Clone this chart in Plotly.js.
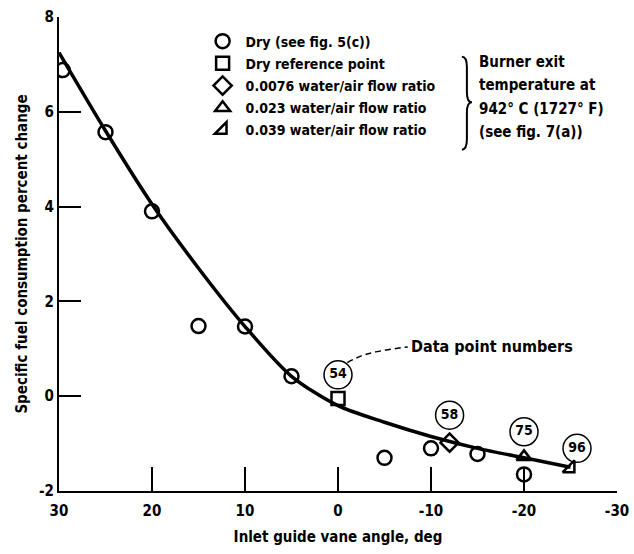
<!DOCTYPE html>
<html><head><meta charset="utf-8">
<script src="https://cdn.plot.ly/plotly-3.0.1.min.js"></script>
<style>body{margin:0;background:#fff}</style>
</head><body><div id="chart" style="width:634px;height:554px"></div>
<script>
// Dry data points (see fig. 5(c))
const dryX = [29.6, 25, 20, 15, 10, 5, -5, -10, -15, -20];
const dryY = [6.88, 5.57, 3.9, 1.48, 1.47, 0.42, -1.3, -1.1, -1.22, -1.65];
// Dry reference point
const refX = [0];
const refY = [-0.05];
// Water injection points
const w0076X = [-12];
const w0076Y = [-0.98];
const w023X = [-20];
const w023Y = [-1.28];
const w039X = [-25];
const w039Y = [-1.52];
// Faired curve
const fitX = [30, 25, 20, 15, 10, 5, 0, -5, -10, -15, -20, -25];
const fitY = [7.25, 5.6, 4.05, 2.7, 1.47, 0.42, -0.2, -0.55, -0.85, -1.1, -1.3, -1.5];
// Data point number labels
const labelText = ['54', '58', '75', '96'];
const labelX = [0, -12, -20, -25.7];
const labelY = [0.45, -0.4, -0.75, -1.1];
// Leader line to "Data point numbers"
const leaderX = [-1, -2.5, -4.2, -7.5];
const leaderY = [0.71, 0.85, 0.94, 1.04];
// Ticks
const xTickVals = [30, 20, 10, 0, -10, -20, -30];
const xTickText = ['30', '20', '10', '0', '-10', '-20', '-30'];
const yTickVals = [-2, 0, 2, 4, 6, 8];
const yTickText = ['-2', '0', '2', '4', '6', '8'];
// Legend names
const seriesNames = ['Dry (see fig. 5(c))', 'Dry reference point', '0.0076 water/air flow ratio', '0.023 water/air flow ratio', '0.039 water/air flow ratio'];
const burnerLines = ['Burner exit', 'temperature at', '942\u00B0 C (1727\u00B0 F)', '(see fig. 7(a))'];

const FONT = 'DejaVu Sans Condensed, Liberation Sans Narrow, sans-serif';
const mk = (sym) => ({symbol: sym, size: 13, color: '#000', line: {color: '#000', width: 2.5}});

const traces = [
  {x: fitX, y: fitY, mode: 'lines', line: {color: '#000', width: 3.5, shape: 'spline', smoothing: 0.8}, showlegend: false, hoverinfo: 'skip'},
  {x: leaderX, y: leaderY, mode: 'lines', line: {color: '#000', width: 1.5, dash: '6px,4px', shape: 'spline'}, showlegend: false, hoverinfo: 'skip'},
  {x: dryX, y: dryY, mode: 'markers', name: seriesNames[0], legendgroup: 'a', marker: Object.assign(mk('circle-open'), {size: 14})},
  {x: refX, y: refY, mode: 'markers', name: seriesNames[1], legendgroup: 'b', marker: mk('square-open')},
  {x: w0076X, y: w0076Y, mode: 'markers', name: seriesNames[2], legendgroup: 'c', marker: Object.assign(mk('diamond-open'), {size: 14})},
  {x: w023X, y: w023Y, mode: 'markers', name: seriesNames[3], legendgroup: 'd', marker: mk('triangle-up-open')},
  {x: w039X, y: w039Y, mode: 'markers', name: seriesNames[4], legendgroup: 'e', marker: mk('triangle-se-open')},
  {x: labelX, y: labelY, mode: 'markers+text', text: labelText, textposition: 'middle center',
   textfont: {family: FONT, size: 14, color: '#000', weight: 'bold'},
   marker: {symbol: 'circle-open', size: 28, color: '#000', line: {color: '#000', width: 1.5}}, showlegend: false, hoverinfo: 'skip'}
];

const annotations = [
  {x: leaderX[leaderX.length - 1], y: leaderY[leaderY.length - 1], xref: 'x', yref: 'y', text: 'Data point numbers', showarrow: false,
   xanchor: 'left', yanchor: 'middle', xshift: 1, font: {family: FONT, size: 16, color: '#000', weight: 'bold'}}
];
burnerLines.forEach((t, i) => {
  annotations.push({x: 0.749, y: 0.905 - i * 0.0495, xref: 'paper', yref: 'paper', text: t, showarrow: false,
    xanchor: 'left', yanchor: 'middle', font: {family: FONT, size: 15, color: '#000', weight: 'bold'}});
});

const layout = {
  width: 634, height: 554,
  margin: {l: 59, r: 17, t: 17, b: 63},
  paper_bgcolor: '#fff', plot_bgcolor: '#fff',
  font: {family: FONT, color: '#000', weight: 'bold'},
  showlegend: true,
  legend: {x: 0.252, y: 0.982, xanchor: 'left', yanchor: 'top', bgcolor: 'rgba(0,0,0,0)', tracegroupgap: 1,
           font: {family: FONT, size: 14, color: '#000', weight: 'bold'}, itemwidth: 36},
  xaxis: {range: [30, -30], autorange: false, showgrid: false, zeroline: false, showline: true, linecolor: '#000', linewidth: 2,
          ticks: 'inside', ticklen: 24, tickwidth: 2, tickcolor: '#000', tickvals: xTickVals, ticktext: xTickText,
          ticklabelstandoff: 5,
          tickfont: {family: FONT, size: 15, color: '#000', weight: 'bold'},
          title: {text: 'Inlet guide vane angle, deg', font: {family: FONT, size: 15, color: '#000', weight: 'bold'}, standoff: 12}},
  yaxis: {range: [-2, 8], autorange: false, showgrid: false, zeroline: false, showline: true, linecolor: '#000', linewidth: 2,
          ticks: 'inside', ticklen: 22, tickwidth: 2, tickcolor: '#000', tickvals: yTickVals, ticktext: yTickText,
          tickfont: {family: FONT, size: 15, color: '#000', weight: 'bold'},
          title: {text: 'Specific fuel consumption percent change', font: {family: FONT, size: 15, color: '#000', weight: 'bold'}, standoff: 8}},
  shapes: [
    {type: 'path', xref: 'paper', yref: 'paper', line: {color: '#000', width: 2},
     path: 'M 0.722,0.916 Q 0.731,0.916 0.731,0.894 L 0.731,0.842 Q 0.731,0.820 0.740,0.820 Q 0.731,0.820 0.731,0.798 L 0.731,0.742 Q 0.731,0.720 0.722,0.720'}
  ],
  annotations: annotations
};

Plotly.newPlot('chart', traces, layout, {displayModeBar: false, staticPlot: true});
</script>
</body></html>
